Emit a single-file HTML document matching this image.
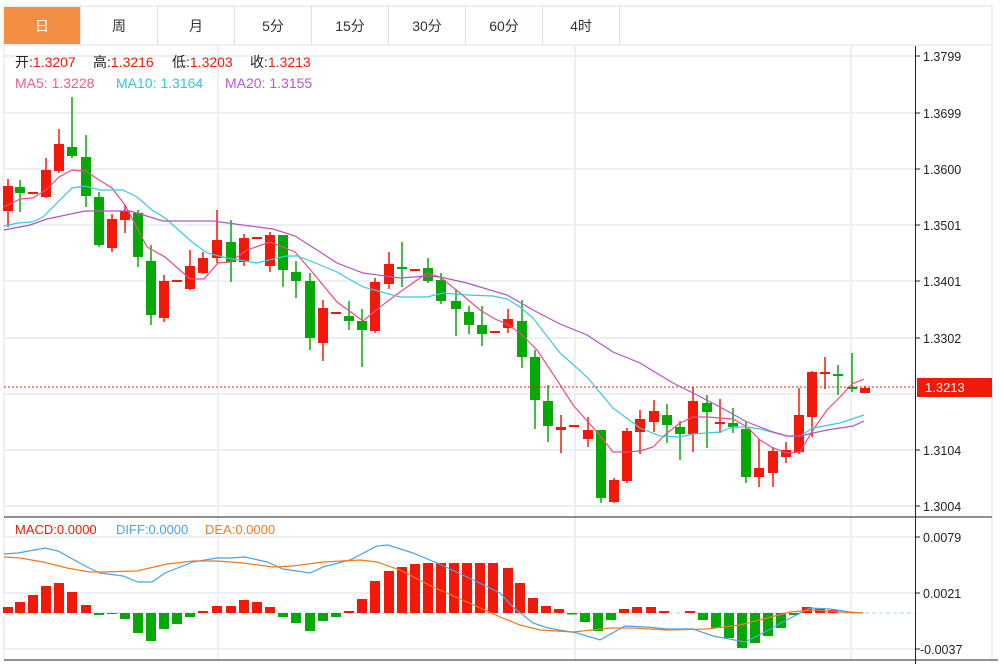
<!DOCTYPE html>
<html><head><meta charset="utf-8"><style>
html,body{margin:0;padding:0;background:#fff;width:1004px;height:664px;overflow:hidden}
svg{display:block;font-family:"Liberation Sans","Noto Sans CJK SC",sans-serif}
</style></head><body>
<svg id="s" width="1004" height="664" viewBox="0 0 1004 664" xmlns="http://www.w3.org/2000/svg">
<rect x="4" y="6" width="988" height="654" fill="#fff" stroke="#dde3ea"/>
<line x1="4" y1="45" x2="992" y2="45" stroke="#dde3ea"/>
<rect x="4" y="7" width="76" height="37" fill="#f38e42"/>
<g stroke="#dde3ea"><line x1="80.5" y1="6" x2="80.5" y2="45"/><line x1="157.5" y1="6" x2="157.5" y2="45"/><line x1="234.5" y1="6" x2="234.5" y2="45"/><line x1="311.5" y1="6" x2="311.5" y2="45"/><line x1="388.5" y1="6" x2="388.5" y2="45"/><line x1="465.5" y1="6" x2="465.5" y2="45"/><line x1="542.5" y1="6" x2="542.5" y2="45"/><line x1="619.5" y1="6" x2="619.5" y2="45"/></g>
<g font-size="14" text-anchor="middle" fill="#333"><text x="42" y="31" fill="#fff">日</text><text x="119" y="31">周</text><text x="196" y="31">月</text><text x="273" y="31">5分</text><text x="350" y="31">15分</text><text x="427" y="31">30分</text><text x="504" y="31">60分</text><text x="581" y="31">4时</text></g>
<g stroke="#e6ecf2" stroke-width="1.5" id="grid">
<line x1="4" y1="56" x2="915" y2="56"/><line x1="4" y1="113" x2="915" y2="113"/><line x1="4" y1="169" x2="915" y2="169"/><line x1="4" y1="225" x2="915" y2="225"/><line x1="4" y1="281" x2="915" y2="281"/><line x1="4" y1="338" x2="915" y2="338"/><line x1="4" y1="394" x2="915" y2="394"/><line x1="4" y1="450" x2="915" y2="450"/><line x1="4" y1="506" x2="915" y2="506"/>
<line x1="4" y1="537" x2="915" y2="537"/><line x1="4" y1="593" x2="915" y2="593"/><line x1="4" y1="649" x2="915" y2="649"/>
<line x1="218" y1="46" x2="218" y2="660"/><line x1="575" y1="46" x2="575" y2="660"/><line x1="851" y1="46" x2="851" y2="660"/>
</g>
<line x1="4" y1="517" x2="992" y2="517" stroke="#222"/>
<line x1="4" y1="660" x2="998" y2="660" stroke="#222"/>
<line x1="915.5" y1="46" x2="915.5" y2="664" stroke="#222"/>
<line x1="4" y1="613" x2="915" y2="613" stroke="#9fd8ee" stroke-dasharray="4,3"/>
<g font-size="12.5" fill="#222" id="ax">
<text x="923" y="61">1.3799</text><text x="923" y="118">1.3699</text><text x="923" y="174">1.3600</text><text x="923" y="230">1.3501</text><text x="923" y="286">1.3401</text><text x="923" y="343">1.3302</text><text x="923" y="455">1.3104</text><text x="923" y="511">1.3004</text>
<text x="923" y="542">0.0079</text><text x="923" y="598">0.0021</text><text x="920" y="654">-0.0037</text>
</g>
<g stroke="#222"><line x1="915" y1="56" x2="920" y2="56"/><line x1="915" y1="113" x2="920" y2="113"/><line x1="915" y1="169" x2="920" y2="169"/><line x1="915" y1="225" x2="920" y2="225"/><line x1="915" y1="281" x2="920" y2="281"/><line x1="915" y1="338" x2="920" y2="338"/><line x1="915" y1="450" x2="920" y2="450"/><line x1="915" y1="506" x2="920" y2="506"/><line x1="915" y1="537" x2="920" y2="537"/><line x1="915" y1="593" x2="920" y2="593"/><line x1="915" y1="649" x2="920" y2="649"/></g>
<g id="c"></g>
<line x1="4" y1="387" x2="915" y2="387" stroke="#f0190a" stroke-dasharray="2,2"/>
<rect x="917" y="378" width="75" height="19" fill="#f0190a"/>
<text x="925" y="392" font-size="13" fill="#fff">1.3213</text>
<g font-size="14">
<text x="15" y="67"><tspan fill="#222">开:</tspan><tspan fill="#f0190a">1.3207</tspan></text>
<text x="93" y="67"><tspan fill="#222">高:</tspan><tspan fill="#f0190a">1.3216</tspan></text>
<text x="172" y="67"><tspan fill="#222">低:</tspan><tspan fill="#f0190a">1.3203</tspan></text>
<text x="250" y="67"><tspan fill="#222">收:</tspan><tspan fill="#f0190a">1.3213</tspan></text>
<text x="15" y="88" fill="#ec5c8a">MA5: 1.3228</text><text x="116" y="88" fill="#35c6dc">MA10: 1.3164</text><text x="225" y="88" fill="#b35ad0">MA20: 1.3155</text>
</g>
<g font-size="13">
<text x="15" y="534" fill="#f0190a">MACD:0.0000</text><text x="116" y="534" fill="#4aa3ee">DIFF:0.0000</text><text x="205" y="534" fill="#f07a1e">DEA:0.0000</text>
</g>
</svg>
<script>
var R="#f2190a",G="#05a805",ns="http://www.w3.org/2000/svg",g=document.getElementById("c");
function el(t,a){var e=document.createElementNS(ns,t);for(var k in a)e.setAttribute(k,a[k]);g.appendChild(e);return e;}
var C=[[8,186,211,179,227,R],[20,187,193,180,212,G],[33,192,194,192,194,R],[46,170,197,158,198,R],[59,144,171,129,173,R],[72,147,156,97,158,G],[86,157,196,135,207,G],[99,197,245,192,247,G],[112,219,248,214,252,R],[125,211,220,205,233,R],[138,213,257,210,267,G],[151,261,315,245,325,G],[164,281,318,275,322,R],[177,280,282,280,282,R],[190,266,289,250,290,R],[203,258,273,252,274,R],[217,240,258,210,263,R],[231,242,262,220,282,G],[244,238,262,234,266,R],[257,237,239,237,239,R],[270,235,266,232,272,R],[283,235,270,235,287,G],[296,272,281,261,298,G],[310,281,338,273,350,G],[323,308,343,300,361,R],[336,312,314,312,314,R],[349,316,321,301,330,G],[362,321,330,309,367,G],[375,282,331,278,333,R],[389,264,284,252,289,R],[402,267,269,242,287,G],[415,269,271,269,271,R],[428,268,281,258,283,G],[441,280,301,273,304,G],[456,301,309,290,336,G],[469,312,325,306,334,G],[482,325,334,306,346,G],[495,331,333,331,333,R],[508,319,328,309,333,R],[522,321,357,300,368,G],[535,357,400,350,429,G],[548,401,426,385,442,G],[561,427,430,415,453,R],[574,425,427,425,427,R],[588,430,439,417,447,R],[601,430,498,430,503,G],[614,480,502,478,503,R],[627,431,481,428,483,R],[640,419,432,410,454,R],[654,411,422,400,432,R],[667,415,425,404,443,G],[680,427,434,421,460,G],[693,401,434,387,452,R],[707,403,412,395,448,G],[720,422,424,399,433,R],[733,423,427,408,433,G],[746,429,477,421,483,G],[759,468,477,439,487,R],[773,451,473,447,487,R],[786,450,457,442,463,R],[799,415,452,388,454,R],[812,372,417,371,437,R],[825,372,374,357,389,R],[838,374,376,365,395,G],[852,387,389,353,392,G],[865,388,393,386,393,R]];
C.forEach(function(c){el("line",{x1:c[0],x2:c[0],y1:c[3],y2:c[4],stroke:c[5],"stroke-width":1.5});el("rect",{x:c[0]-5,y:c[1],width:10,height:Math.max(c[2]-c[1],2),fill:c[5]});});
function pl(p,col){el("polyline",{points:p,fill:"none",stroke:col,"stroke-width":1.2});}
pl("4,207 20,199 33,198 46,190 59,177 72,170 86,171 99,180 112,188 125,205 147,247 165,257 190,279 204,279 218,263 230,262 247,250 270,242 295,252 313,273 337,302 363,321 380,307 400,292 427,273 440,277 460,293 480,310 495,319 507,324 520,333 537,350 555,377 573,405 597,432 613,452 627,452 640,451 653,447 667,433 680,423 693,417 707,417 720,418 733,419 747,427 760,440 773,448 787,453 800,452 813,430 827,410 840,397 852,384 864,379","#ec4c82");
pl("4,226 18,223 32,222 43,217 72,188 85,186 100,190 123,190 137,197 152,210 165,218 192,242 207,253 227,258 257,263 273,259 287,256 297,256 313,262 337,272 363,287 400,297 427,297 443,293 467,295 493,296 507,299 520,307 533,318 560,353 587,377 613,408 640,428 660,436 680,437 693,434 720,432 733,427 747,427 760,429 787,436 800,436 813,428 840,423 864,415","#3cc8dc");
pl("4,230 30,225 47,219 85,211 130,211 163,221 213,221 250,226 273,229 295,236 317,250 337,263 363,273 400,278 427,276 440,277 467,283 480,287 507,295 533,310 560,324 587,335 613,352 640,363 673,383 693,393 720,407 747,422 773,432 787,436 800,436 827,430 853,426 864,421","#b154c8");
var M=[[8,607],[20,602],[33,595],[46,586],[59,583],[72,592],[86,605],[99,615],[112,613],[125,619],[138,633],[151,641],[164,629],[177,624],[190,617],[203,611],[217,606],[231,606],[244,600],[257,602],[270,607],[283,617],[296,623],[310,631],[323,621],[336,617],[349,611],[362,599],[375,581],[389,571],[402,567],[415,564],[428,563],[441,563],[454,563],[467,563],[480,563],[493,563],[508,568],[520,583],[533,598],[546,606],[559,609],[572,614.5],[585,622],[598,631],[611,620],[624,609],[637,607],[651,607],[664,611],[690,611],[703,620],[716,628],[729,638],[742,648],[755,643],[768,636],[781,628],[794,615],[807,607],[820,608],[833,610]];
M.forEach(function(m){var z=613,up=m[1]<z;el("rect",{x:m[0]-5,y:Math.min(m[1],z),width:10,height:Math.max(Math.abs(m[1]-z),1),fill:up?R:G});});
pl("4,554 18,553 45,548 58,551 87,567 100,573 123,576 138,582 152,582 165,573 193,562 217,558 230,558 245,557 267,562 283,569 310,573 323,567 350,560 377,546 388,545 413,553 437,563 467,577 500,593 513,607 533,623 548,628 577,633 600,640 625,626 647,627 667,629 693,629 713,636 745,642 763,633 783,622 800,613 810,608 830,609 850,612 863,613","#4aa3ee");
pl("4,557 20,558 43,562 67,568 90,572 100,572 137,571 167,564 193,561 217,561 243,563 273,567 293,566 323,562 360,560 377,562 400,570 433,587 467,602 500,617 520,625 540,630 573,632 610,628 633,628 667,630 707,629 740,625 767,618 790,612 813,610 840,612 863,613","#f07a1e");
</script>
</body></html>
